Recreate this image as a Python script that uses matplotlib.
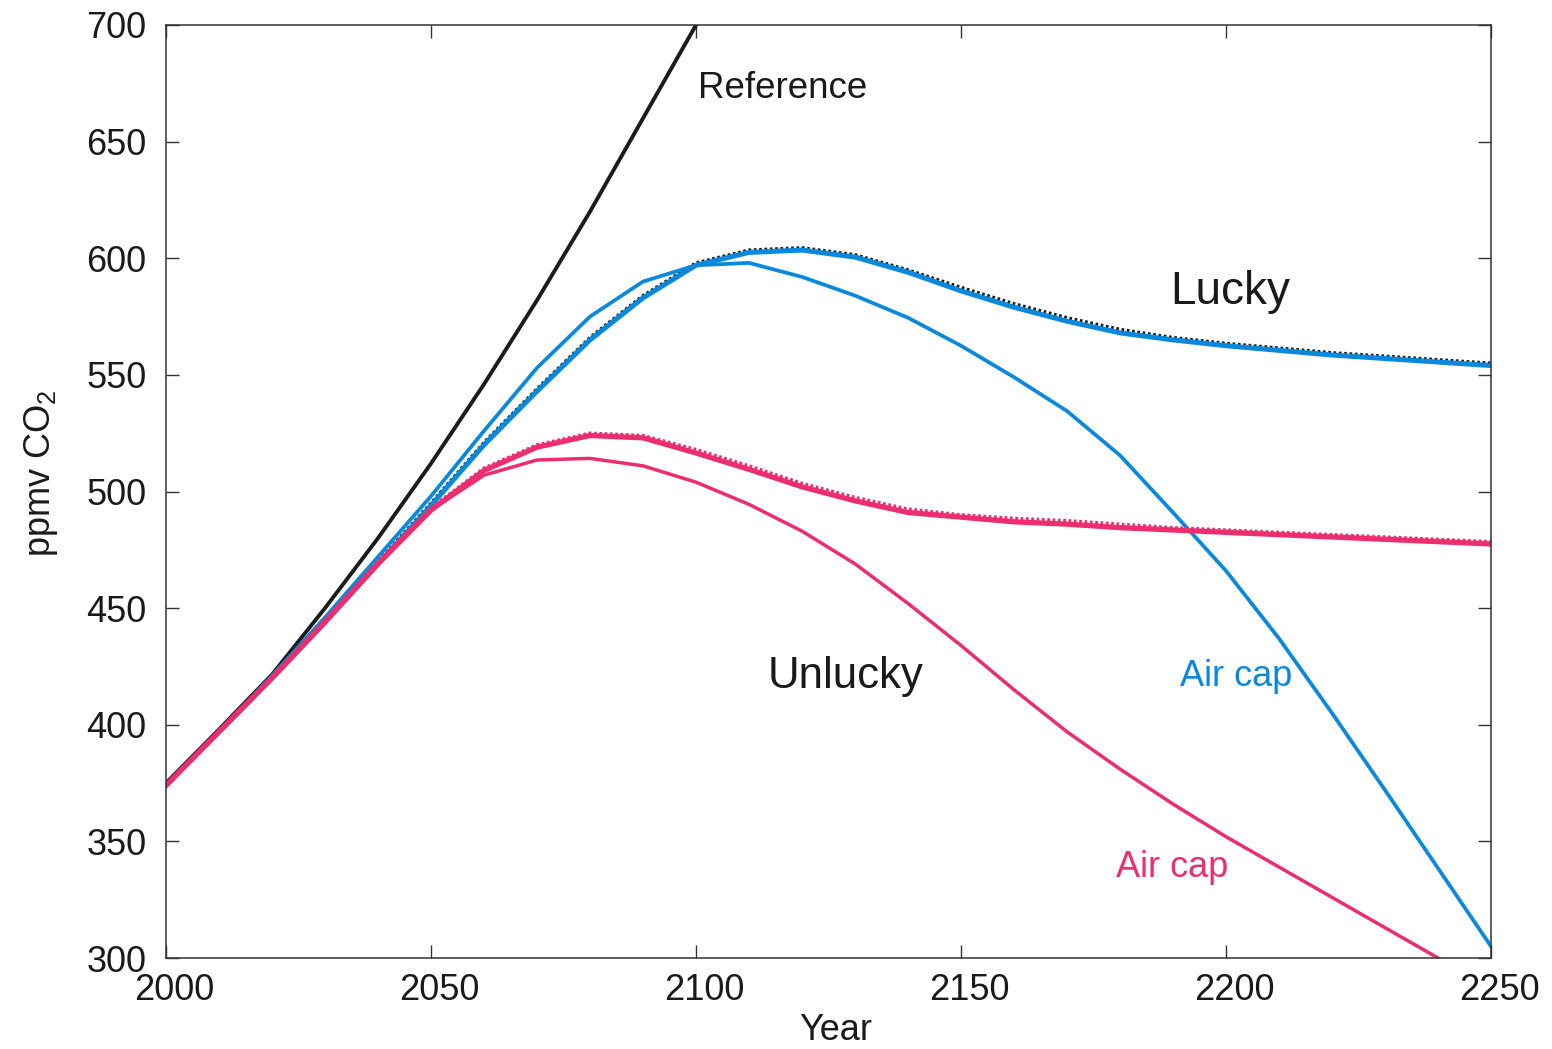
import numpy as np
import matplotlib
matplotlib.use("Agg")
import matplotlib.pyplot as plt
import matplotlib.transforms as mtransforms

plt.rcParams['font.family'] = ['Liberation Sans', 'DejaVu Sans']
plt.rcParams['mathtext.fontset'] = 'custom'
plt.rcParams['mathtext.rm'] = 'Liberation Sans'
plt.rcParams['mathtext.it'] = 'Liberation Sans'

# ---------------- data ----------------
years = [2000, 2010, 2020, 2030, 2040, 2050, 2060, 2070, 2080, 2090, 2100,
         2110, 2120, 2130, 2140, 2150, 2160, 2170, 2180, 2190, 2200,
         2210, 2220, 2230, 2240, 2250]

ref_years = [2000, 2010, 2020, 2030, 2040, 2050, 2060, 2070, 2080, 2090, 2100, 2110]
reference = [375, 398, 421.5, 450, 480, 512, 546, 582, 620, 660, 700, 742]

lucky = [374, 397, 420, 444, 469, 494, 520, 543, 565, 583, 597,
         602.5, 603.5, 600.5, 594, 586, 579, 573, 568, 565, 562.5,
         560.5, 558.5, 557, 555.5, 554]
lucky_alt = [374.5, 397.5, 421, 445, 470, 495, 521, 544, 566, 584, 598,
             603.5, 604.5, 601.5, 595, 587.5, 580.5, 574.5, 569.5, 566, 563.5,
             561.5, 559.5, 558, 556.5, 555]
lucky_aircap = [374, 397, 421, 446, 472, 498, 526, 553, 575, 590, 597,
                598, 592, 584, 574.5, 562.5, 549, 534.5, 515.5, 491, 466,
                437, 405, 372, 338.5, 305]

unlucky = [374, 397, 420, 444, 469, 492, 509, 519, 524, 523, 516.5,
           509.5, 502, 496, 491, 489, 487, 486, 484.5, 483.5, 482.5,
           481.5, 480.5, 479.5, 478.5, 477.5]
unlucky_alt = [374.5, 397.5, 420.5, 445, 470, 493, 510, 520, 525, 524, 518,
               511, 503.5, 497.5, 492.5, 490, 488.5, 487.5, 486, 484.5, 483.5,
               482.5, 481.5, 480.5, 479.5, 478.5]
unlucky_aircap = [374, 397, 420, 444, 469, 492, 507, 513.5, 514.2, 511, 504,
                  494.5, 483, 469, 452, 434, 415, 397, 381, 366, 352,
                  339, 326, 313, 300, 287]

xticks = [2000, 2050, 2100, 2150, 2200, 2250]
yticks = [300, 350, 400, 450, 500, 550, 600, 650, 700]

BLUE = '#0A89DC'
PINK = '#EC2E6E'
BLACK = '#1c1c1c'

# ---------------- figure ----------------
fig = plt.figure(figsize=(15.52, 10.49), dpi=100)
ax = fig.add_axes([166/1552, 1-958/1049, (1491-166)/1552, (958-25)/1049])

ax.plot(ref_years, reference, color=BLACK, lw=2.8, solid_capstyle='butt')

ax.plot(years, lucky_alt, color=BLACK, lw=2.4, ls=(0, (0.8, 0.8)))
ax.plot(years, lucky, color=BLUE, lw=3.6)
ax.plot(years, lucky_aircap, color=BLUE, lw=2.7)

ax.plot(years, unlucky_alt, color=PINK, lw=2.4, ls=(0, (0.8, 0.8)))
ax.plot(years, unlucky, color=PINK, lw=3.8)
ax.plot(years, unlucky_aircap, color=PINK, lw=2.5)

ax.set_xlim(2000, 2250)
ax.set_ylim(300, 700)
ax.set_xticks(xticks)
ax.set_yticks(yticks)

for s in ax.spines.values():
    s.set_color('#333333')
    s.set_linewidth(1.1)

ax.tick_params(axis='both', which='both', direction='in', length=9.5, width=1.0,
               colors='#333333', labelcolor='#1a1a1a', labelsize=26,
               top=True, right=True)
ax.tick_params(axis='x', pad=11)
ax.tick_params(axis='y', pad=14)

offset = mtransforms.ScaledTranslation(8/100, 0, fig.dpi_scale_trans)
for lab in ax.get_xticklabels():
    lab.set_transform(lab.get_transform() + offset)

ax.set_xlabel('Year', fontsize=26, color='#1a1a1a')
ax.xaxis.set_label_coords(0.5057, -0.059)
ax.set_ylabel('ppmv CO$_2$', fontsize=26, color='#1a1a1a')
ax.yaxis.set_label_coords(-0.080, 0.52)

ax.text(2100.4, 668.6, 'Reference', fontsize=26.5, color='#1a1a1a', va='baseline', ha='left')
ax.text(2189.5, 580.4, 'Lucky', fontsize=33, color='#1a1a1a', va='baseline', ha='left')
ax.text(2113.6, 415.9, 'Unlucky', fontsize=31.5, color='#1a1a1a', va='baseline', ha='left')
ax.text(2191.4, 416.6, 'Air cap', fontsize=26, color=BLUE, va='baseline', ha='left')
ax.text(2179.2, 334.9, 'Air cap', fontsize=26, color=PINK, va='baseline', ha='left')

fig.savefig('out.png', dpi=100)
